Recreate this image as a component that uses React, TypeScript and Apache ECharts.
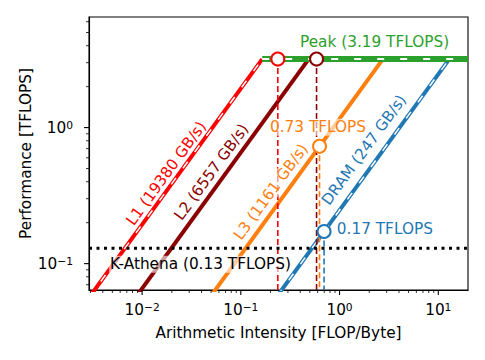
import React, { useEffect, useRef } from 'react';
import * as echarts from 'echarts';

// ---- axis ranges ----
const X_MIN = 0.0029;
const X_MAX = 20;
const Y_MIN = 0.064;
const Y_MAX = 6.5;

// ---- machine ceilings ----
const PEAK_TFLOPS = 3.19;
const levelNames = ['L1', 'L2', 'L3', 'DRAM'];
const bandwidthGBs = [19380, 6557, 1161, 247];
const levelColors = ['#ff0000', '#8b0000', '#ff7f0e', '#1f77b4'];
const levelWhiteDash = [true, false, false, true];

// ---- application (K-Athena) ----
const APP_NAME = 'K-Athena';
const APP_TFLOPS = 0.13;
const appIntensity = [0.237, 0.585, 0.627, 0.697]; // FLOP/Byte per memory level

// ---- label anchors (data units) ----
const bwLabelAI = [0.01757, 0.0504, 0.2012, 1.771];
const bwLabelPerf = [0.461, 0.4716, 0.337, 0.685];
const perfLabelAI = [null, null, 0.6053, 2.878];
const perfLabelPerf = [null, null, 1.007, 0.1784];
const peakLabelPos = [2.263, 4.28];
const appLabelPos = [0.03903, 0.099];

const FONT = '"DejaVu Sans", sans-serif';
const FS = 15.3;
const SLOPE_DEG = 54;

const xMajor = [0.01, 0.1, 1, 10];
const yMajor = [0.1, 1];

function minorTicks(lo: number, hi: number): number[] {
  const out: number[] = [];
  for (let d = -4; d <= 2; d++) {
    for (let k = 2; k <= 9; k++) {
      const v = k * Math.pow(10, d);
      if (v > lo && v < hi) out.push(v);
    }
  }
  return out;
}

const fmtPow = (v: number) => {
  const l = Math.log10(v);
  const e = Math.round(l);
  if (Math.abs(l - e) > 1e-6) return '';
  return `{b|10}{s|${e < 0 ? '\u2212' + -e : e}}`;
};

const richPow = {
  b: { fontSize: FS, fontFamily: FONT, color: '#000', lineHeight: 15, verticalAlign: 'bottom' },
  s: { fontSize: 10.7, fontFamily: FONT, color: '#000', lineHeight: 11, verticalAlign: 'top', padding: [0, 0, 8, 0] },
};

export default function App() {
  const ref = useRef<HTMLDivElement>(null);
  useEffect(() => {
    if (!ref.current) return;
    const chart = echarts.init(ref.current, undefined, { renderer: 'svg' });

    const series: any[] = [];

    // bandwidth ceilings
    levelNames.forEach((name, i) => {
      const bw = bandwidthGBs[i] / 1000;
      const data = [
        [X_MIN, X_MIN * bw],
        [PEAK_TFLOPS / bw, PEAK_TFLOPS],
      ];
      series.push({
        type: 'line', name, data, symbol: 'none', z: 2, silent: true,
        lineStyle: { color: levelColors[i], width: 4, cap: 'butt' },
      });
      if (levelWhiteDash[i]) {
        series.push({
          type: 'line', data, symbol: 'none', z: 3, silent: true,
          lineStyle: { color: '#fff', width: 1.5, type: [8, 12], cap: 'butt' },
        });
      }
    });

    // compute peak
    const peakData = [
      [PEAK_TFLOPS / (bandwidthGBs[0] / 1000), PEAK_TFLOPS],
      [X_MAX, PEAK_TFLOPS],
    ];
    series.push({
      type: 'line', data: peakData, symbol: 'none', z: 2, silent: true,
      lineStyle: { color: '#2ca02c', width: 6, cap: 'butt' },
    });
    series.push({
      type: 'line', data: peakData, symbol: 'none', z: 3, silent: true,
      lineStyle: { color: '#fff', width: 2, type: [7, 16], cap: 'butt' },
    });

    // application performance line
    series.push({
      type: 'line', data: [[X_MIN, APP_TFLOPS], [X_MAX, APP_TFLOPS]], symbol: 'none', z: 6, silent: true,
      lineStyle: { color: '#000', width: 3, type: [3, 4.5], cap: 'butt' },
    });

    // per level app points
    const appPerf = appIntensity.map((ai, i) => Math.min(PEAK_TFLOPS, ai * bandwidthGBs[i] / 1000));
    appIntensity.forEach((ai, i) => {
      series.push({
        type: 'line', data: [[ai, appPerf[i]], [ai, Y_MIN]], symbol: 'none', z: 5, silent: true,
        lineStyle: { color: levelColors[i], width: 1.6, type: [6, 3], cap: 'butt' },
      });
    });
    series.push({
      type: 'scatter', z: 7, silent: true, symbol: 'circle', symbolSize: 13,
      itemStyle: { opacity: 1 },
      data: appIntensity.map((ai, i) => ({
        value: [ai, appPerf[i]],
        itemStyle: { color: '#fff', borderColor: levelColors[i], borderWidth: 2, opacity: 1 },
      })),
    });

    // text labels
    const textItems: any[] = [];
    levelNames.forEach((name, i) => {
      textItems.push({
        value: [bwLabelAI[i], bwLabelPerf[i]],
        label: { formatter: `${name} (${bandwidthGBs[i]} GB/s)`, color: levelColors[i], rotate: SLOPE_DEG },
      });
      if (perfLabelAI[i] != null) {
        textItems.push({
          value: [perfLabelAI[i], perfLabelPerf[i]],
          label: { formatter: `${appPerf[i].toFixed(2)} TFLOPS`, color: levelColors[i] },
        });
      }
    });
    textItems.push({
      value: peakLabelPos,
      label: { formatter: `Peak (${PEAK_TFLOPS.toFixed(2)} TFLOPS)`, color: '#2ca02c', backgroundColor: 'transparent' },
    });
    textItems.push({
      value: appLabelPos,
      label: { formatter: `${APP_NAME} (${APP_TFLOPS.toFixed(2)} TFLOPS)`, color: '#000' },
    });
    series.push({
      type: 'scatter', z: 8, silent: true, symbolSize: 0,
      itemStyle: { opacity: 1 },
      data: textItems,
      label: {
        show: true, position: 'inside', fontSize: FS, fontFamily: FONT, opacity: 1,
        align: 'center', verticalAlign: 'middle',
        backgroundColor: 'rgba(255,255,255,0.6)', padding: [1, 1],
      },
    });

    // axis ticks (major + minor)
    const tickData: number[][] = [];
    xMajor.forEach((v) => tickData.push([v, Y_MIN, 0]));
    minorTicks(X_MIN, X_MAX).forEach((v) => tickData.push([v, Y_MIN, 1]));
    yMajor.forEach((v) => tickData.push([X_MIN, v, 2]));
    minorTicks(Y_MIN, Y_MAX).forEach((v) => tickData.push([X_MIN, v, 3]));
    series.push({
      type: 'custom', silent: true, z: 10, clip: false,
      data: tickData,
      renderItem: (params: any, api: any) => {
        const cs = params.coordSys;
        const p = api.coord([api.value(0), api.value(1)]);
        const kind = api.value(2);
        const major = kind === 0 || kind === 2;
        const len = major ? 5 : 3;
        const w = major ? 1.1 : 0.8;
        if (kind < 2) {
          const y0 = cs.y + cs.height;
          return { type: 'line', shape: { x1: p[0], y1: y0, x2: p[0], y2: y0 + len }, style: { stroke: '#000', lineWidth: w } };
        }
        const x0 = cs.x;
        return { type: 'line', shape: { x1: x0, y1: p[1], x2: x0 - len, y2: p[1] }, style: { stroke: '#000', lineWidth: w } };
      },
    });

    chart.setOption({
      animation: false,
      backgroundColor: '#fff',
      textStyle: { fontFamily: FONT },
      grid: { left: 89, right: 17, top: 17, bottom: 70, show: true, borderColor: '#000', borderWidth: 1.1, backgroundColor: 'transparent' },
      xAxis: {
        type: 'log', logBase: 10, min: X_MIN, max: X_MAX,
        name: 'Arithmetic Intensity [FLOP/Byte]', nameLocation: 'middle', nameGap: 35,
        nameMoveOverlap: false,
        nameTextStyle: { fontSize: FS, fontFamily: FONT, color: '#000' },
        axisLine: { lineStyle: { color: '#000', width: 1.1 } },
        axisTick: { show: false },
        splitLine: { show: false },
        minorTick: { show: false },
        axisLabel: { formatter: fmtPow, margin: 12, rich: richPow, color: '#000' },
      },
      yAxis: {
        type: 'log', logBase: 10, min: Y_MIN, max: Y_MAX,
        name: 'Performance [TFLOPS]', nameLocation: 'middle', nameGap: 56,
        nameMoveOverlap: false,
        nameTextStyle: { fontSize: FS, fontFamily: FONT, color: '#000' },
        axisLine: { lineStyle: { color: '#000', width: 1.1 } },
        axisTick: { show: false },
        splitLine: { show: false },
        minorTick: { show: false },
        axisLabel: { formatter: fmtPow, margin: 16, rich: richPow, color: '#000' },
      },
      series,
    });
    return () => chart.dispose();
  }, []);
  return <div ref={ref} style={{ position: 'fixed', left: 0, top: 0, width: 485, height: 360 }} />;
}
